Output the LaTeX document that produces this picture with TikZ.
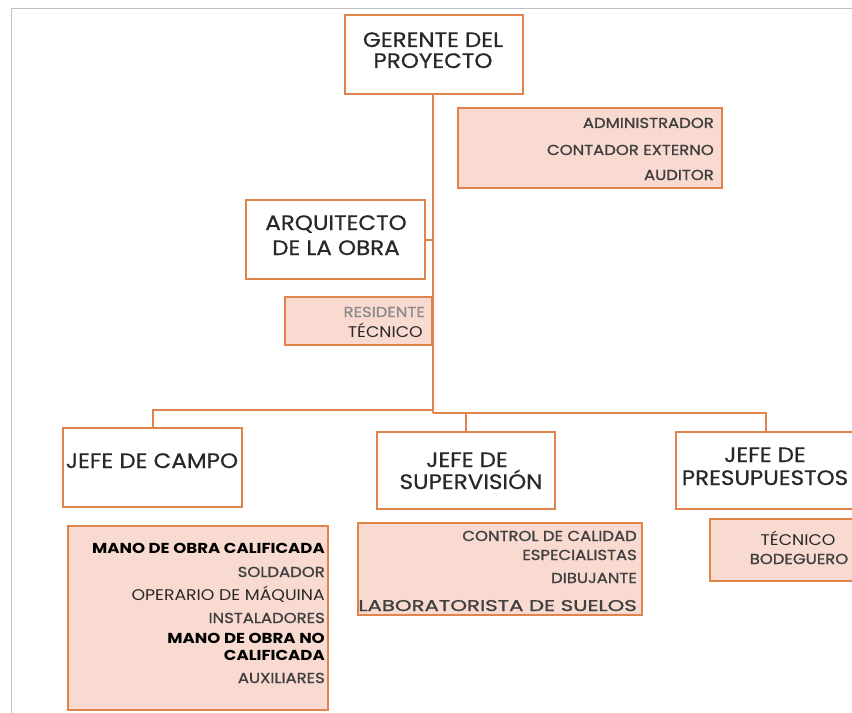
\documentclass[tikz,border=0pt]{standalone}
\usepackage{fontspec}
\newfontfamily\titlef[FakeStretch=1.10,FakeBold=0.6]{Poppins}
\newfontfamily\lightf[FakeStretch=1.12]{Poppins}
\newfontfamily\subf[FakeStretch=1.14,FakeBold=1.2]{Poppins}
\newfontfamily\subbf[FakeStretch=1.15]{Poppins}
\definecolor{obr}{RGB}{224,132,76}
\definecolor{pk}{RGB}{249,218,208}
\definecolor{txt}{RGB}{40,40,40}
\definecolor{subtxt}{RGB}{64,64,64}
\definecolor{frame}{RGB}{192,192,192}
\tikzset{
  wbox/.style={draw=obr, line width=2.4bp, fill=white, inner sep=0pt},
  pbox/.style={draw=obr, line width=2.4bp, fill=pk, inner sep=0pt},
  conn/.style={draw=obr, line width=2bp},
  ttl/.style={font=\titlef\fontsize{21}{24}\selectfont, text=txt, inner sep=0pt, anchor=base},
  itm/.style={font=\subf\fontsize{14.5}{18}\selectfont, text=subtxt, inner sep=0pt, anchor=base east},
  itmb/.style={font=\subbf\bfseries\fontsize{14.5}{18}\selectfont, text=black, inner sep=0pt, anchor=base east},
  itml/.style={font=\lightf\fontsize{15.5}{18}\selectfont, text=txt, inner sep=0pt, anchor=base east},
}
\begin{document}
\begin{tikzpicture}[x=1bp,y=-1bp]
\useasboundingbox (0,0) rectangle (852,713);
\clip (0,0) rectangle (852,713);
% frame
\draw[frame, line width=1bp] (11,713) -- (11,9) -- (852,9);

% boxes
\node[wbox, minimum width=178bp, minimum height=79bp] (ger) at (434,54.5) {};
\node[pbox, minimum width=264bp, minimum height=80bp] (adm) at (590,148) {};
\node[wbox, minimum width=179bp, minimum height=79bp] (arq) at (335.5,239.5) {};
\node[pbox, minimum width=147bp, minimum height=48bp] (res) at (358.5,321) {};
\node[wbox, minimum width=179bp, minimum height=79bp] (cam) at (152.5,467.5) {};
\node[pbox, minimum width=260bp, minimum height=184bp] (camsub) at (198,618) {};
\node[wbox, minimum width=178bp, minimum height=77bp] (sup) at (466,470.5) {};
\node[pbox, minimum width=284bp, minimum height=92bp] (supsub) at (500,569) {};
\node[wbox, minimum width=180bp, minimum height=77bp] (pre) at (766,470.5) {};
\node[pbox, minimum width=150bp, minimum height=62bp] (presub) at (785,550) {};

% connectors
\coordinate (jL) at (433,409.5);
\coordinate (jR) at (433,412.5);
\draw[conn] (ger.south -| jL) -- (jR);
\draw[conn] (arq.east) -- (arq.east -| jL);
\draw[conn] (jL) -| (cam.north);
\draw[conn] (jR) -| (sup.north);
\draw[conn] (jR) -| (pre.north);

% title texts
\node[ttl] (t1) at (433,47) {GERENTE DEL};
\node[ttl] (t2) at (433,68) {PROYECTO};
\node[ttl] (t3) at (336,230) {ARQUITECTO};
\node[ttl] (t4) at (336,255) {DE LA OBRA};
\node[ttl] (t5) at (152,468) {JEFE DE CAMPO};
\node[ttl] (t6) at (467,467) {JEFE DE};
\node[ttl] (t7) at (471,489) {SUPERVISIÓN};
\node[ttl] (t8) at (765,462) {JEFE DE};
\node[ttl] (t9) at (765,485) {PRESUPUESTOS};

% admin items
\node[itm] (a1) at (714,128) {ADMINISTRADOR};
\node[itm] (a2) at (714,155) {CONTADOR EXTERNO};
\node[itm] (a3) at (714,180) {AUDITOR};

% residente
\node[itm, text=gray!90] (r1) at (425,317) {RESIDENTE};
\node[itml] (r2) at (423,337) {TÉCNICO};

% campo items
\node[itmb] (c1) at (325,553) {MANO DE OBRA CALIFICADA};
\node[itm] (c2) at (325,577) {SOLDADOR};
\node[itml] (c3) at (325,600) {OPERARIO DE MÁQUINA};
\node[itm] (c4) at (325,623) {INSTALADORES};
\node[itmb] (c5) at (325,643) {MANO DE OBRA NO};
\node[itmb] (c6) at (325,660) {CALIFICADA};
\node[itm] (c7) at (325,683) {AUXILIARES};

% supervision items
\node[itm] (s1) at (637,541) {CONTROL DE CALIDAD};
\node[itm] (s2) at (637,560) {ESPECIALISTAS};
\node[itm] (s3) at (637,583) {DIBUJANTE};
\node[itm] (s4) at (637,611) {\scalebox{1.29}[1.08]{LABORATORISTA DE SUELOS}};

% presupuestos items
\node[itml, anchor=base] (p1) at (798,545) {TÉCNICO};
\node[itm, anchor=base] (p2) at (799,564) {BODEGUERO};
\end{tikzpicture}
\end{document}
